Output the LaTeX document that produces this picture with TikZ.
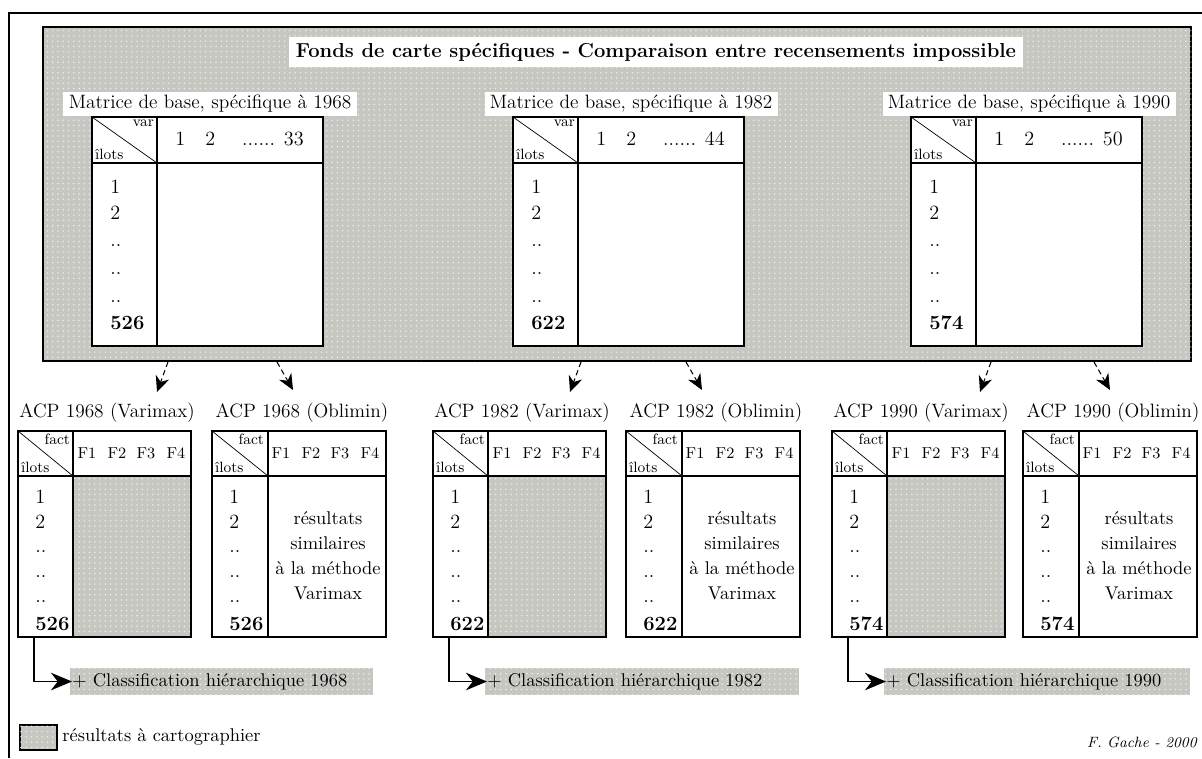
\documentclass[tikz,border=0pt]{standalone}
\usepackage{tikz}
\usetikzlibrary{arrows.meta,patterns,calc}
\usepackage{xcolor}
\definecolor{mapgrey}{RGB}{198,198,195}
\definecolor{dotlight}{RGB}{238,238,210}
\newcommand{\fsz}[1]{\fontsize{#1}{#1}\selectfont}

\begin{document}
\begin{tikzpicture}[x=0.02cm,y=-0.02cm,
    tocart/.style={fill=mapgrey,postaction={pattern=dots,pattern color=dotlight}},
    tabline/.style={line width=1pt},
    whitelab/.style={fill=white,inner xsep=3pt,inner ysep=2pt,font=\fsz{11}},
    rownum/.style={anchor=west,inner sep=0pt,font=\fsz{11.5}},
    corner/.style={inner sep=1pt,font=\fsz{8.5}},
    acplab/.style={font=\fsz{11},inner sep=1pt},
    downarr/.style={densely dashed,semithick,-{Stealth[length=9pt,width=8pt]}},
    clsarr/.style={line width=1pt,-{Stealth[length=12pt,width=10pt]}}]
  \useasboundingbox (0,0) rectangle (1202,758);
  % Frame (left and top edges)
  \draw[line width=1pt] (9,758) -- (9,13) -- (1202,13);
  % Grey field of the base matrices
  \draw[tocart,tabline] (43,27) rectangle (1191,361);
  \node[fill=white,font=\bfseries\fsz{11.5},inner xsep=4pt,minimum height=0.6cm] (title) at (656,52)
    {Fonds de carte spécifiques - Comparaison entre recensements impossible};
  % Base matrices
  \foreach \yr/\L/\nv/\nr in {1968/92/33/526,1982/513/44/622,1990/911/50/574}{
    \node[whitelab] (mat\yr) at (\L+118,104) {Matrice de base, spécifique à \yr};
    \filldraw[fill=white,tabline] (\L,117) rectangle (\L+231,346);
    \draw[tabline] (\L,163) -- (\L+231,163);
    \draw[tabline] (\L+65,117) -- (\L+65,346);
    \draw (\L,117) -- (\L+65,163);
    \node[corner,anchor=north east] (var\yr) at (\L+64,118) {var};
    \node[corner,anchor=south west] (ilot\yr) at (\L+1,162) {îlots};
    \node[anchor=west,inner sep=0pt,font=\fsz{11.5}] (head\yr) at (\L+83,139) {1\quad 2\quad\ ...... \nv};
    \node[rownum] (r1\yr) at (\L+18,187) {1};
    \node[rownum] (r2\yr) at (\L+18,213) {2};
    \foreach \yy in {246,274,302}
      \node[rownum] (d\yy\yr) at (\L+18,\yy) {..};
    \node[rownum,font=\bfseries\fsz{11.5}] (last\yr) at (\L+18,323) {\nr};
  }
  % ACP tables, arrows and classifications
  \foreach \yr/\V/\O/\br/\la/\lb/\nr in {1968/18/212/373/157/293/526,
      1982/433/626/799/570/702/622,1990/832/1023/1190/980/1110/574}{
    % arrows out of the grey field
    \coordinate (sa\yr) at (\la+11,362);
    \coordinate (ta\yr) at (\la,392);
    \coordinate (sb\yr) at (\lb-16,362);
    \coordinate (tb\yr) at (\lb,390);
    \draw[downarr] (sa\yr) -- (ta\yr);
    \draw[downarr] (sb\yr) -- (tb\yr);
    \node[acplab] (acpv\yr) at (\V+89,413) {ACP \yr\ (Varimax)};
    \node[acplab] (acpo\yr) at (\O+90,413) {ACP \yr\ (Oblimin)};
    % Varimax
    \fill[tocart] (\V+55,476) rectangle (\V+173,637);
    \draw[tabline] (\V,431) rectangle (\V+173,637);
    \draw[tabline] (\V,476) -- (\V+173,476);
    \draw[tabline] (\V+55,431) -- (\V+55,637);
    \draw (\V,431) -- (\V+55,476);
    % Oblimin
    \draw[tabline] (\O,431) rectangle (\O+174,637);
    \draw[tabline] (\O,476) -- (\O+174,476);
    \draw[tabline] (\O+56,431) -- (\O+56,637);
    \draw (\O,431) -- (\O+56,476);
    \foreach \T/\c in {v/\V,o/\O}{
      \node[corner,anchor=north east] (fa\T\yr) at (\c+54,432) {fact};
      \node[corner,anchor=south west] (il\T\yr) at (\c+1,475) {îlots};
      \foreach \k/\dx in {1/69,2/99,3/128,4/158}
        \node[font=\fsz{9},inner sep=0pt] (f\k\T\yr) at (\c+\dx,453) {F\k};
      \node[rownum] (a1\T\yr) at (\c+17,497) {1};
      \node[rownum] (a2\T\yr) at (\c+17,522) {2};
      \foreach \yy in {552,577,602}
        \node[rownum] (e\yy\T\yr) at (\c+17,\yy) {..};
      \node[rownum,font=\bfseries\fsz{11.5}] (al\T\yr) at (\c+17,624) {\nr};
    }
    \node[align=center,font=\fontsize{10.5}{14.2}\selectfont] (sim\yr) at (\O+116,556)
      {résultats\\similaires\\à la méthode\\Varimax};
    % hierarchical classification
    \fill[tocart] (\V+52,668) rectangle (\br,695);
    \node[anchor=west,inner sep=0pt,font=\fsz{10.5}] (cls\yr) at (\V+54,681.5)
      {+ Classification hiérarchique \yr};
    \coordinate (vb\yr) at (\V+16,637);
    \draw[clsarr] (vb\yr) |- (cls\yr.west);
  }
  % Legend and credit
  \draw[tocart,tabline] (20,725) rectangle (57,750);
  \node[anchor=west,inner sep=0pt,font=\fsz{10.5}] (leg) at (62,737) {résultats à cartographier};
  \node[anchor=east,inner sep=0pt,font=\itshape\fsz{8.5}] (credit) at (1197,742) {F. Gache - 2000};
\end{tikzpicture}
\end{document}
